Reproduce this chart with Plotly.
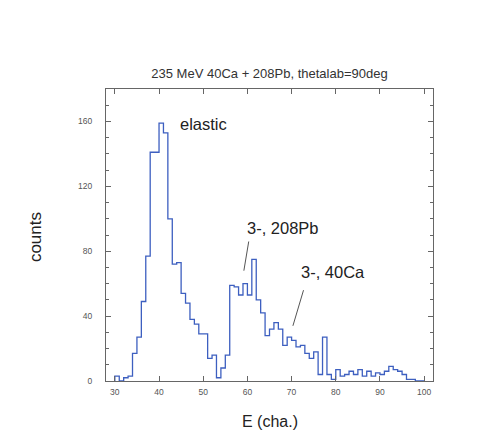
"""Step histogram of 40Ca + 208Pb spectrum at thetalab = 90 deg."""
import plotly.graph_objects as go

channels = list(range(30, 100))
counts = [
    3, 0, 2, 3, 17, 27, 49, 77, 141, 141,
    159, 153, 100, 72, 73, 54, 48, 38, 35, 29,
    29, 14, 16, 2, 8, 16, 59, 58, 53, 60,
    53, 75, 50, 42, 28, 32, 36, 32, 22, 27,
    25, 21, 22, 17, 14, 18, 4, 27, 4, 1,
    7, 3, 4, 6, 4, 7, 3, 6, 3, 5,
    4, 6, 9, 7, 6, 4, 1, 1, 0, 0,
]

title_text = "235 MeV 40Ca + 208Pb, thetalab=90deg"
peak_labels = ["elastic", "3-, 208Pb", "3-, 40Ca"]
label_x = [44.3, 59.4, 71.6]
label_y = [158.6, 94.4, 67.0]
# pointer lines: (x0, y0, x1, y1) in data units
pointers = [(60.3, 86, 59.2, 68), (72.7, 56, 70.3, 34)]

# step outline: start from the baseline, close at the last edge
xs = [channels[0]] + channels + [channels[-1] + 1]
ys = [0] + counts + [counts[-1]]

font = "Liberation Sans, Arial, sans-serif"
frame = "#666666"

# page body has an 8px margin, so the figure is kept 16px smaller than the window
W, H = 471, 423

fig = go.Figure()
fig.add_trace(go.Scatter(
    x=xs, y=ys, mode="lines", line_shape="hv",
    line=dict(color="#3d5fc0", width=1.3), hoverinfo="skip",
))

for text, x, y in zip(peak_labels, label_x, label_y):
    fig.add_annotation(x=x, y=y, text=text, showarrow=False, xanchor="left",
                       font=dict(family=font, size=16.5, color="#222222"))

for x0, y0, x1, y1 in pointers:
    fig.add_shape(type="line", x0=x0, y0=y0, x1=x1, y1=y1,
                  line=dict(color="#555555", width=1))

fig.add_annotation(xref="paper", yref="paper", x=-0.217, y=0.493, text="counts",
                   textangle=-90, showarrow=False, xanchor="center", yanchor="middle",
                   font=dict(family=font, size=17, color="#222222"))
fig.add_annotation(xref="paper", yref="paper", x=0.5, y=-0.137, text="E (cha.)",
                   showarrow=False, xanchor="center", yanchor="middle",
                   font=dict(family=font, size=16, color="#222222"))

axis_common = dict(
    showline=True, linecolor=frame, linewidth=1, mirror="ticks",
    ticks="inside", tickcolor=frame, ticklen=5, showgrid=False, zeroline=False,
    tickfont=dict(family=font, size=8.5, color="#555555"),
)

fig.update_layout(
    width=W, height=H,
    margin=dict(l=98, r=46, t=81, b=50),
    paper_bgcolor="white", plot_bgcolor="white",
    showlegend=False,
    title=dict(text=title_text, x=0.5, xref="paper", y=1 - 65 / H,
               yanchor="middle", font=dict(family=font, size=13, color="#333333")),
    xaxis=dict(range=[28, 102], tick0=30, dtick=10, ticklabelstandoff=3,
               **axis_common),
    yaxis=dict(range=[0, 180], tick0=0, dtick=40, ticklabelstandoff=11,
               minor=dict(dtick=10, ticks="inside", ticklen=3, tickcolor=frame),
               **axis_common),
)

fig.write_html("out.html")
